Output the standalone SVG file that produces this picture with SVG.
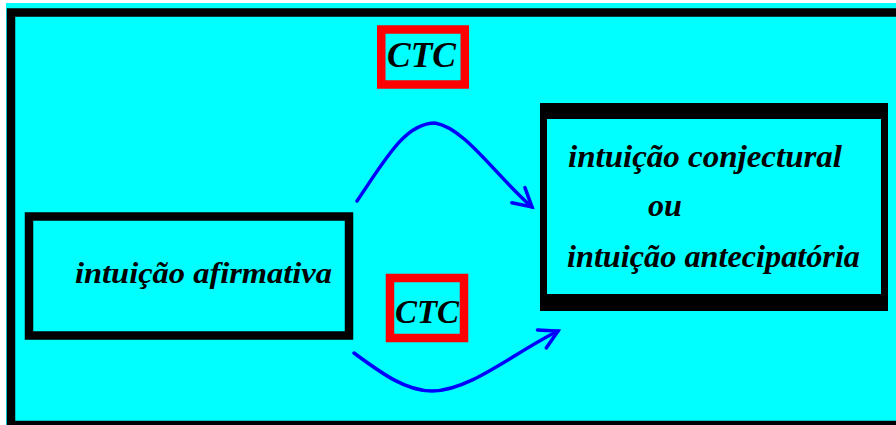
<svg xmlns="http://www.w3.org/2000/svg" width="896" height="425" viewBox="0 0 896 425">
<style>
.t{font-family:"Liberation Serif","Times New Roman",serif;font-weight:bold;font-style:italic;fill:#000}
.box{fill:none;stroke:#000}
.ctc{fill:none;stroke:#ff0000;stroke-width:8.5}
.arr{fill:none;stroke:#0000ff;stroke-width:3.5;stroke-linecap:round}
</style>
<defs>
<marker id="ah" markerUnits="userSpaceOnUse" markerWidth="30" markerHeight="30" refX="20" refY="10" orient="auto" overflow="visible">
<path d="M2,0 L20,10 L2,20" fill="none" stroke="#0000ff" stroke-width="3.5" stroke-linecap="round" stroke-linejoin="miter"/>
</marker>
</defs>
<rect x="0" y="0" width="896" height="425" fill="#ffffff"/>
<rect x="6" y="3" width="890" height="422" fill="#00ffff"/>
<g id="frame">
<rect class="box" x="11" y="12.5" width="1000" height="412.5" stroke-width="8.5"/>
</g>
<g id="node-afirmativa">
<rect class="box" x="29" y="216.5" width="320" height="119" stroke-width="8.5"/>
<text class="t" x="75" y="283" font-size="29" textLength="257" lengthAdjust="spacingAndGlyphs">intuição afirmativa</text>
</g>
<g id="node-conjectural">
<rect x="540" y="103" width="348" height="208" fill="#000"/>
<rect x="547" y="119" width="334" height="175" fill="#00ffff"/>
<text class="t" x="568" y="167" font-size="32" textLength="274" lengthAdjust="spacingAndGlyphs">intuição conjectural</text>
<text class="t" x="648" y="216" font-size="32" textLength="34" lengthAdjust="spacingAndGlyphs">ou</text>
<text class="t" x="567" y="267" font-size="32" textLength="293" lengthAdjust="spacingAndGlyphs">intuição antecipatória</text>
</g>
<g id="connectors">
<path class="arr" d="M357,201 C385,160 405,123 435,123 C465,128 495,175 532,207" marker-end="url(#ah)"/>
<path class="arr" d="M354,353 C380,372 405,391 432,391 C470,391 515,352 558,331" marker-end="url(#ah)"/>
</g>
<g id="label-ctc-top">
<rect class="ctc" x="381.25" y="29.5" width="83.5" height="55"/>
<text class="t" x="387" y="67" font-size="35" textLength="69" lengthAdjust="spacingAndGlyphs">CTC</text>
</g>
<g id="label-ctc-bottom">
<rect class="ctc" x="390" y="278" width="74" height="60" stroke-width="8"/>
<text class="t" x="395" y="323" font-size="33" textLength="64" lengthAdjust="spacingAndGlyphs">CTC</text>
</g>
</svg>
